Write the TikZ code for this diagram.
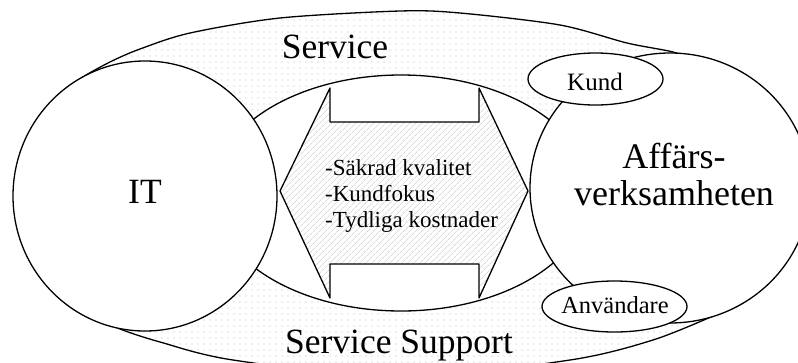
\documentclass[tikz,border=0pt]{standalone}
\usepackage{fontspec}
\setmainfont{Liberation Serif}
\usetikzlibrary{patterns.meta}
\tikzset{
  ln/.style={line width=1.3pt, line join=round},
  dotfill/.style={pattern={Dots[radius=0.6pt, distance=6pt]}, pattern color=gray!55},
  hatchfill/.style={pattern={Lines[angle=45, distance=4pt, line width=0.5pt]}, pattern color=gray!45},
  bigtxt/.style={font=\fontsize{35.5}{40}\selectfont, inner sep=0pt},
  midtxt/.style={font=\fontsize{23}{26}\selectfont, inner sep=0pt},
  smalltxt/.style={font=\fontsize{25}{28}\selectfont, inner sep=0pt},
}
\begin{document}
\begin{tikzpicture}[x=1pt, y=-1pt]
\useasboundingbox (0,0) rectangle (798,362);
% outer region (dotted)
\def\outerpath{plot[smooth] coordinates {(66,94) (80,79) (110,62) (140,49) (190,33) (280,18) (400,11) (460,13) (560,25) (627,43) (673,52) (700,62)}
  -- (740,300)
  -- plot[smooth] coordinates {(713,316) (653,340) (570,360) (400,378) (233,360) (160,342) (120,329) (110,322)} -- cycle}
\path[dotfill] \outerpath;
\draw[ln] \outerpath;
% inner ellipse
\draw[ln, fill=white] (401,193) ellipse [x radius=189pt, y radius=118pt];
% double arrow
\coordinate (lt) at (280,191);
\coordinate (rt) at (528,191);
\path[fill=white] (lt) -- (330,88) -- (330,122) -- (479,122) -- (479,88) -- (rt) -- (479,298) -- (479,264) -- (330,264) -- (330,298) -- cycle;
\draw[ln, hatchfill] (lt) -- (330,88) -- (330,122) -- (479,122) -- (479,88) -- (rt) -- (479,298) -- (479,264) -- (330,264) -- (330,298) -- cycle;
% big circles
\draw[ln, fill=white] (145,196) ellipse [x radius=132pt, y radius=135pt];
\draw[ln, fill=white] (670,188) ellipse [x radius=140pt, y radius=135pt];
% small ellipses
\draw[ln, fill=white] (595.5,79) ellipse [x radius=67.5pt, y radius=26pt];
\draw[ln, fill=white] (614.5,306.5) ellipse [x radius=72.5pt, y radius=25.5pt];
% texts
\node[bigtxt, anchor=base] (service) at (335,58) {Service};
\node[bigtxt, anchor=base] (support) at (399,353) {Service Support};
\node[bigtxt, anchor=base] (it) at (145,203) {IT};
\node[bigtxt, anchor=base, align=center, font=\fontsize{36}{37}\selectfont] (aff) at (674,205) {Affärs-\\verksamheten};
\node[midtxt, anchor=base west, align=left] (list) at (325,227) {-Säkrad kvalitet\\-Kundfokus\\-Tydliga kostnader};
\node[smalltxt, anchor=base] (kund) at (595,90) {Kund};
\node[font=\fontsize{24.5}{28}\selectfont, inner sep=0pt, anchor=base] (anv) at (615,313) {Användare};
\end{tikzpicture}
\end{document}
